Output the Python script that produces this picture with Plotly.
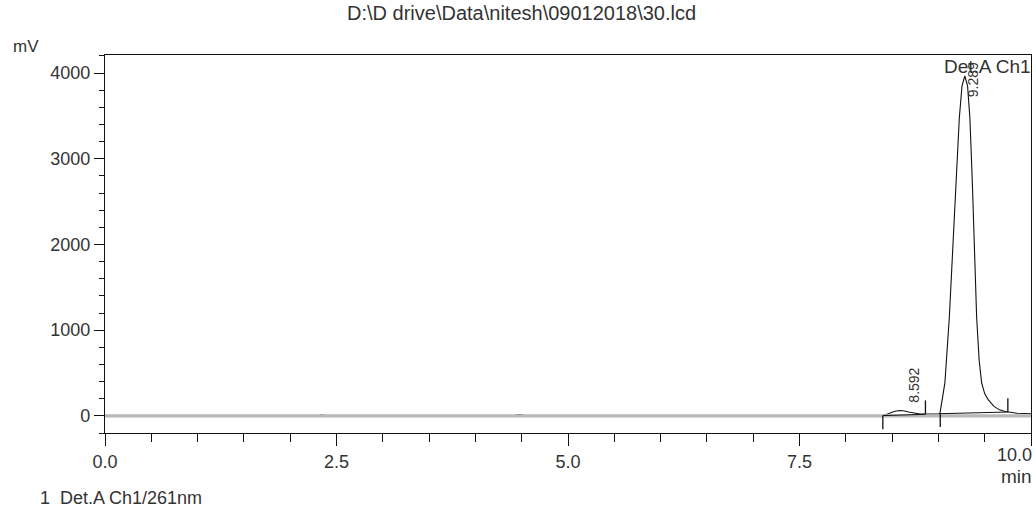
import plotly.graph_objects as go

# ---- data ----
time_min = [0.0, 2.30, 2.34, 2.40, 4.40, 4.48, 4.55, 5.45, 5.50, 5.56, 6.48, 6.53, 6.60,
            8.40, 8.46, 8.52, 8.58, 8.62, 8.68, 8.74, 8.80, 8.86, 8.94, 9.00,
            9.017, 9.07, 9.118, 9.154, 9.19, 9.226, 9.255, 9.285, 9.315, 9.34, 9.367,
            9.389, 9.413, 9.44, 9.467, 9.50, 9.54, 9.60, 9.66, 9.72, 9.77, 9.85, 10.0]
signal_mv = [0, 0, 12, 0, 0, 14, 0, 0, 8, 0, 0, 8, 0,
             5, 25, 50, 62, 60, 45, 30, 22, 20, 18, 22,
             30, 384, 1151, 1930, 2709, 3477, 3850, 3965, 3850, 3477, 2709,
             1930, 1151, 650, 384, 260, 186, 110, 70, 50, 40, 30, 25]

peak_labels = ["8.592", "9.289"]
peak_label_mv = [356, 3924]
peak_label_x = [8.74, 9.37]

# integration events (time, baseline level, direction)
event_times = [8.40, 8.86, 9.02, 9.75]
event_base_mv = [5, 20, 30, 45]
event_dir = [-1, 1, -1, 1]

# drawn baselines of the integrated peaks
baseline_start = [(8.40, 3), (9.02, 25)]
baseline_end = [(8.86, 18), (9.75, 45)]

x_range = [0.0, 10.0]
y_range = [-200, 4210]
x_tick_vals = [0.0, 2.5, 5.0, 7.5, 10.0]
x_tick_text = ["0.0", "2.5", "5.0", "7.5", "10.0"]
y_tick_vals = [0, 1000, 2000, 3000, 4000]
y_tick_text = ["0", "1000", "2000", "3000", "4000"]

title_text = "D:\\D drive\\Data\\nitesh\\09012018\\30.lcd"
footer_text = "1  Det.A Ch1/261nm"
channel_text = "Det.A Ch1"

FONT = "Liberation Sans, Arial, sans-serif"
TXT = "#333333"

W, H = 1036, 510
L, R, T, B = 105, 1031, 55, 433.5

fig = go.Figure()

fig.add_trace(go.Scatter(x=time_min, y=signal_mv, mode="lines",
                         line=dict(color="#111111", width=1.1), hoverinfo="skip"))

fig.add_trace(go.Scatter(x=x_range, y=[0, 0], mode="lines",
                         line=dict(color="#b8b8b8", width=3.2), hoverinfo="skip"))

bx, by = [], []
for (x0, y0), (x1, y1) in zip(baseline_start, baseline_end):
    bx += [x0, x1, None]
    by += [y0, y1, None]
fig.add_trace(go.Scatter(x=bx, y=by, mode="lines",
                         line=dict(color="#111111", width=1), hoverinfo="skip"))

TICK_LEN = 160
ex, ey = [], []
for t, b, d in zip(event_times, event_base_mv, event_dir):
    ex += [t, t, None]
    ey += [b, b + d * TICK_LEN, None]
fig.add_trace(go.Scatter(x=ex, y=ey, mode="lines",
                         line=dict(color="#111111", width=1.3), hoverinfo="skip"))

for lx, ly, lab in zip(peak_label_x, peak_label_mv, peak_labels):
    fig.add_annotation(x=lx, y=ly, xref="x", yref="y", text=lab, textangle=-90,
                       showarrow=False, font=dict(family=FONT, size=14, color=TXT))


def px(xp):
    return (xp - L) / (R - L)


def py(yp):
    return (B - yp) / (B - T)


# last x tick label sits flush with the right border (right-aligned)
shown_x_text = x_tick_text[:-1] + [""]
fig.add_annotation(x=x_tick_vals[-1], y=py(456), xref="x", yref="paper",
                   text=x_tick_text[-1], xanchor="right", yanchor="middle",
                   xshift=3, showarrow=False, font=dict(family=FONT, size=18, color=TXT))

fig.add_annotation(x=px(1033), y=py(67), xref="paper", yref="paper", text=channel_text,
                   xanchor="right", yanchor="middle", showarrow=False,
                   font=dict(family=FONT, size=19, color=TXT))
fig.add_annotation(x=px(521), y=py(13), xref="paper", yref="paper", text=title_text,
                   xanchor="center", yanchor="middle", showarrow=False,
                   font=dict(family=FONT, size=20, color=TXT))
fig.add_annotation(x=px(11), y=py(46), xref="paper", yref="paper", text="mV",
                   xanchor="left", yanchor="middle", showarrow=False,
                   font=dict(family=FONT, size=17, color=TXT))
fig.add_annotation(x=px(1034), y=py(477), xref="paper", yref="paper", text="min",
                   xanchor="right", yanchor="middle", showarrow=False,
                   font=dict(family=FONT, size=19, color=TXT))
fig.add_annotation(x=px(38), y=py(499), xref="paper", yref="paper", text=footer_text,
                   xanchor="left", yanchor="middle", showarrow=False,
                   font=dict(family=FONT, size=18, color=TXT))

fig.update_xaxes(range=x_range, tickvals=x_tick_vals, ticktext=shown_x_text,
                 ticks="outside", ticklen=12, tickwidth=1.3, tickcolor="#111111",
                 minor=dict(dtick=0.5, ticks="outside", ticklen=8, tickwidth=1.3,
                            tickcolor="#111111", showgrid=False),
                 showline=True, linecolor="#111111", linewidth=1.3, mirror=True,
                 showgrid=False, zeroline=False,
                 tickfont=dict(family=FONT, size=18, color=TXT))
fig.update_yaxes(range=y_range, tickvals=y_tick_vals, ticktext=y_tick_text,
                 ticks="outside", ticklen=10, tickwidth=1.3, tickcolor="#111111",
                 minor=dict(dtick=200, tick0=0, ticks="outside", ticklen=5, tickwidth=1.3,
                            tickcolor="#111111", showgrid=False),
                 showline=True, linecolor="#111111", linewidth=1.3, mirror=True,
                 showgrid=False, zeroline=False,
                 tickfont=dict(family=FONT, size=18, color=TXT))

fig.update_layout(width=W, height=H, margin=dict(l=L, r=W - R, t=T, b=H - B),
                  paper_bgcolor="white", plot_bgcolor="white", showlegend=False)

fig.write_html("out.html", config={"displayModeBar": False},
               post_script="document.body.style.margin='0';"
                           "document.body.style.overflow='hidden';")
